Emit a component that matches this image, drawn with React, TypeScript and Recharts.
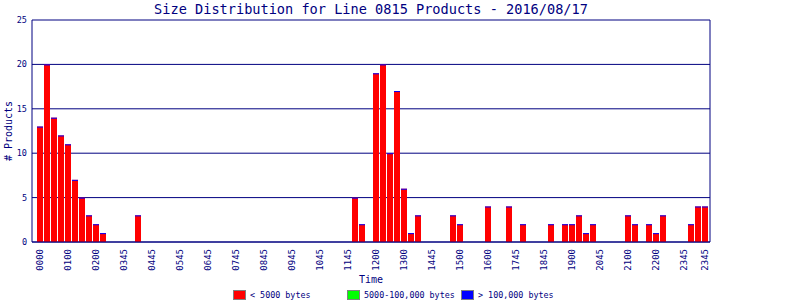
import { Bar, CartesianGrid, ComposedChart, Legend, XAxis, YAxis } from "recharts";

const NAVY = "#000080";
const MONO = "'DejaVu Sans Mono', monospace";

// 15-minute slots, 0000 .. 2345 (96 slots)
const smallCounts = [
  13, 20, 14, 12, 11, 7, 5, 3, 2, 1, 0, 0, 0, 0, 3, 0,
  0, 0, 0, 0, 0, 0, 0, 0, 0, 0, 0, 0, 0, 0, 0, 0,
  0, 0, 0, 0, 0, 0, 0, 0, 0, 0, 0, 0, 0, 5, 2, 0,
  19, 20, 10, 17, 6, 1, 3, 0, 0, 0, 0, 3, 2, 0, 0, 0,
  4, 0, 0, 4, 0, 2, 0, 0, 0, 2, 0, 2, 2, 3, 1, 2,
  0, 0, 0, 0, 3, 2, 0, 2, 1, 3, 0, 0, 0, 2, 4, 4,
];
const mediumCounts = [
  0, 0, 0, 0, 0, 0, 0, 0, 0, 0, 0, 0, 0, 0, 0, 0,
  0, 0, 0, 0, 0, 0, 0, 0, 0, 0, 0, 0, 0, 0, 0, 0,
  0, 0, 0, 0, 0, 0, 0, 0, 0, 0, 0, 0, 0, 0, 0, 0,
  0, 0, 0, 0, 0, 0, 0, 0, 0, 0, 0, 0, 0, 0, 0, 0,
  0, 0, 0, 0, 0, 0, 0, 0, 0, 0, 0, 0, 0, 0, 0, 0,
  0, 0, 0, 0, 0, 0, 0, 0, 0, 0, 0, 0, 0, 0, 0, 0,
];
const largeCounts = [
  0, 0, 0, 0, 0, 0, 0, 0, 0, 0, 0, 0, 0, 0, 0, 0,
  0, 0, 0, 0, 0, 0, 0, 0, 0, 0, 0, 0, 0, 0, 0, 0,
  0, 0, 0, 0, 0, 0, 0, 0, 0, 0, 0, 0, 0, 0, 0, 0,
  0, 0, 0, 0, 0, 0, 0, 0, 0, 0, 0, 0, 0, 0, 0, 0,
  0, 0, 0, 0, 0, 0, 0, 0, 0, 0, 0, 0, 0, 0, 0, 0,
  0, 0, 0, 0, 0, 0, 0, 0, 0, 0, 0, 0, 0, 0, 0, 0,
];

const tickSlots = [0, 4, 8, 12, 16, 20, 24, 28, 32, 36, 40, 44, 48, 52, 56, 60, 64, 68, 72, 76, 80, 84, 88, 92, 95];
const tickLabels = [
  "0000", "0100", "0200", "0345", "0445", "0545", "0645", "0745", "0845", "0945", "1045", "1145",
  "1200", "1300", "1445", "1500", "1600", "1745", "1845", "1900", "2045", "2100", "2200", "2345", "2345",
];
const yTicks = [0, 5, 10, 15, 20, 25];

const seriesInfo = [
  { key: "small", name: "< 5000 bytes", color: "#ff0000" },
  { key: "medium", name: "5000-100,000 bytes", color: "#00ff00" },
  { key: "large", name: "> 100,000 bytes", color: "#0000ff" },
];

const data = smallCounts.map((v, i) => ({
  slot: i,
  small: v,
  medium: mediumCounts[i],
  large: largeCounts[i],
}));

// red bar with the thin blue cap the original draws on every bar
const CappedBar = (props: any) => {
  const { x, y, width, height, fill } = props;
  if (!height || height <= 0) return null;
  return (
    <g>
      <rect x={x} y={y} width={width} height={height} fill={fill} />
      <rect x={x} y={y} width={width} height={1} fill="#0000ff" />
    </g>
  );
};

const TimeTick = (props: any) => {
  const { x, y, payload } = props;
  const label = tickLabels[tickSlots.indexOf(payload.value)];
  return (
    <text
      x={x}
      y={y}
      dx={-7}
      dy="0.35em"
      transform={`rotate(-90 ${x} ${y})`}
      textAnchor="end"
      fill={NAVY}
      fontSize={9}
      fontFamily={MONO}
    >
      {label}
    </text>
  );
};

const YLabel = (props: any) => {
  const vb = props.viewBox;
  const cy = vb.y + vb.height / 2;
  return (
    <text
      x={8}
      y={cy}
      transform={`rotate(-90 8 ${cy})`}
      textAnchor="middle"
      dominantBaseline="central"
      fill={NAVY}
      fontSize={10}
      fontFamily={MONO}
    >
      # Products
    </text>
  );
};

const LegendBox = () => (
  <div style={{ display: "flex", height: 12, paddingLeft: 233, fontFamily: MONO, fontSize: 8.4, color: NAVY }}>
    {seriesInfo.map((s) => (
      <div key={s.key} style={{ width: 114, display: "flex", alignItems: "center" }}>
        <span
          style={{
            display: "inline-block",
            width: 11,
            height: 8,
            background: s.color,
            border: "1px solid #808080",
            marginRight: 4,
            marginTop: 2,
          }}
        />
        <span style={{ marginTop: 1 }}>{s.name}</span>
      </div>
    ))}
  </div>
);

export default function App() {
  return (
    <div style={{ position: "absolute", left: 0, top: 0, width: 800, height: 300, background: "#fff" }}>
      <div
        style={{
          position: "absolute",
          left: 0,
          top: 1,
          width: 742,
          textAlign: "center",
          fontFamily: MONO,
          fontSize: 13.6,
          lineHeight: "16px",
          color: NAVY,
        }}
      >
        Size Distribution for Line 0815 Products - 2016/08/17
      </div>
      <ComposedChart
        width={800}
        height={300}
        data={data}
        margin={{ top: 20, right: 88, bottom: 0, left: 0 }}
        barCategoryGap={0}
        barGap={0}
      >
        <CartesianGrid vertical={false} stroke={NAVY} />
        <XAxis
          dataKey="slot"
          type="category"
          ticks={tickSlots}
          interval={0}
          tick={<TimeTick />}
          tickLine={false}
          tickSize={0}
          tickMargin={0}
          axisLine={{ stroke: NAVY }}
          padding={{ left: 4, right: 2 }}
          height={46}
          label={{ value: "Time", position: "insideBottom", offset: 5, fill: NAVY, fontSize: 10, fontFamily: MONO }}
        />
        <YAxis
          domain={[0, 25]}
          ticks={yTicks}
          width={32}
          tickLine={false}
          tickSize={0}
          tickMargin={5}
          axisLine={{ stroke: NAVY }}
          tick={{ fill: NAVY, fontSize: 8.5, fontFamily: MONO }}
          label={YLabel}
        />
        <YAxis yAxisId="r" orientation="right" domain={[0, 25]} width={2} tick={false} tickLine={false} axisLine={{ stroke: NAVY }} />
        <Legend verticalAlign="bottom" height={12} content={() => <LegendBox />} wrapperStyle={{ left: 0, bottom: 0, width: 800 }} />
        <Bar dataKey="small" name={seriesInfo[0].name} stackId="a" barSize={6} fill={seriesInfo[0].color} shape={<CappedBar />} isAnimationActive={false} />
        <Bar dataKey="medium" name={seriesInfo[1].name} stackId="a" barSize={6} fill={seriesInfo[1].color} isAnimationActive={false} />
        <Bar dataKey="large" name={seriesInfo[2].name} stackId="a" barSize={6} fill={seriesInfo[2].color} isAnimationActive={false} />
      </ComposedChart>
    </div>
  );
}
